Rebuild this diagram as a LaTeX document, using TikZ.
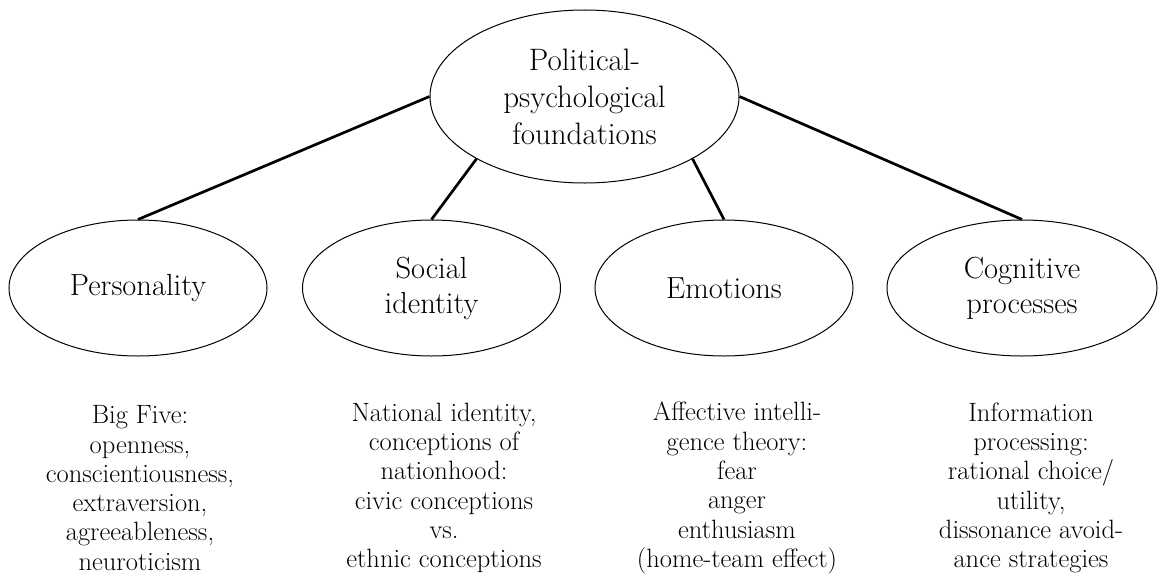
\documentclass[tikz,border=0pt]{standalone}
\usetikzlibrary{shapes.geometric}
\begin{document}
\begin{tikzpicture}[x=1pt,y=-1pt,
  bubble/.style={draw, line width=1pt, ellipse, inner sep=0pt, align=center,
    minimum width=258pt, minimum height=136pt, font=\fontsize{30.5}{35}\selectfont},
  note/.style={align=center, inner sep=0pt, font=\fontsize{26.5}{29.3}\selectfont},
  link/.style={line width=2.7pt}]
\useasboundingbox (0,0) rectangle (1158,586);
\node[bubble, minimum width=309pt, minimum height=173pt, font=\fontsize{31}{37}\selectfont] (root) at (584.5,96.5) {Political-\\psychological\\foundations};
\node[bubble] (pers) at (138,288) {Personality};
\node[bubble] (soc) at (431.5,288) {Social\\identity};
\node[bubble] (emo) at (724,288) {Emotions};
\node[bubble, minimum width=270pt] (cog) at (1022,288) {Cognitive\\processes};
\draw[link] (root.west) -- (pers.north);
\draw[link] (root.210) -- (soc.north);
\draw[link] (root.330) -- (emo.north);
\draw[link] (root.east) -- (cog.north);
\node[note] (t1) at (140,488) {Big Five:\\openness,\\conscientiousness,\\extraversion,\\agreeableness,\\neuroticism};
\node[note] (t2) at (444,488) {National identity,\\conceptions of\\nationhood:\\civic conceptions\\vs.\\ethnic conceptions};
\node[note] (t3) at (737,488) {Affective intelli-\\gence theory:\\fear\\anger\\enthusiasm\\(home-team effect)};
\node[note] (t4) at (1031,488) {Information\\processing:\\rational choice/\\utility,\\dissonance avoid-\\ance strategies};
\end{tikzpicture}
\end{document}
